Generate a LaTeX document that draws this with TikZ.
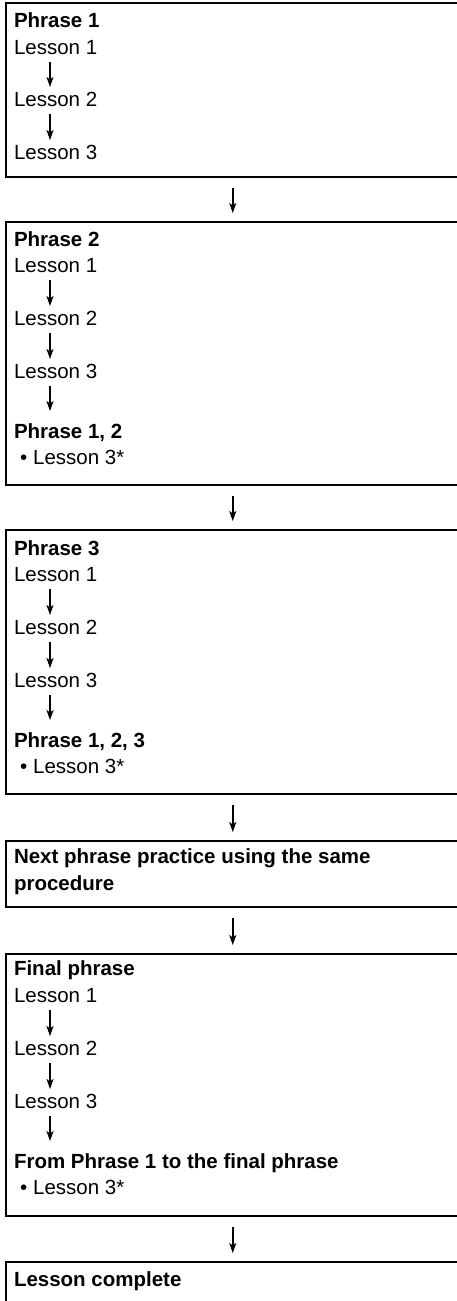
\documentclass[tikz,border=0pt]{standalone}
\usepackage{fontspec}
\setmainfont{Liberation Sans}
\usetikzlibrary{arrows.meta}
\tikzset{
  txt/.style={anchor=base west, inner sep=0pt, outer sep=0pt, font=\fontsize{20.5}{24}\selectfont},
  hd/.style={txt, font=\fontsize{20.5}{24}\selectfont\bfseries},
  frame/.style={draw, line width=2.8pt, anchor=north west, inner sep=0pt, outer sep=0pt, minimum width=453.5pt},
  sarr/.style={-{Stealth[length=10pt,width=7pt,inset=2.5pt]}, line width=1.5pt},
  marr/.style={-{Stealth[length=10pt,width=7pt,inset=2.5pt]}, line width=1.5pt},
}
\newcommand{\larr}[2]{\draw[sarr] ([xshift=36pt,yshift=-7.5pt]#1.base west) -- ([xshift=36pt,yshift=19.5pt]#2.base west);}
\begin{document}
\begin{tikzpicture}[x=1pt,y=-1pt]
\useasboundingbox (0,0) rectangle (457,1301);
\clip (0,0) rectangle (457,1301);
% boxes
\node[frame, minimum height=174pt] (b1) at (6,3) {};
\node[frame, minimum height=263pt] (b2) at (6,222) {};
\node[frame, minimum height=264pt] (b3) at (6,530) {};
\node[frame, minimum height=66pt]  (b4) at (6,841) {};
\node[frame, minimum height=262pt] (b5) at (6,954) {};
\node[frame, minimum height=70pt]  (b6) at (6,1262) {};
% box 1
\node[hd]  (b1h)  at (14,27.5)  {Phrase 1};
\node[txt] (b1l1) at (14,54.5)  {Lesson 1};
\node[txt] (b1l2) at (14,106.5) {Lesson 2};
\node[txt] (b1l3) at (14,159.5) {Lesson 3};
\larr{b1l1}{b1l2}
\larr{b1l2}{b1l3}
% box 2
\node[hd]  (b2h)  at (14,246.5) {Phrase 2};
\node[txt] (b2l1) at (14,272.5) {Lesson 1};
\node[txt] (b2l2) at (14,325.5) {Lesson 2};
\node[txt] (b2l3) at (14,378.5) {Lesson 3};
\node[hd]  (b2r)  at (14,438.5) {Phrase 1, 2};
\node[txt] (b2b)  at (20,464.5) {\textbullet\hspace{6pt}Lesson 3*};
\larr{b2l1}{b2l2}
\larr{b2l2}{b2l3}
\coordinate (e2) at (50,411);
\draw[sarr] ([xshift=36pt,yshift=-7.5pt]b2l3.base west) -- (e2);
% box 3
\node[hd]  (b3h)  at (14,555.5) {Phrase 3};
\node[txt] (b3l1) at (14,581.5) {Lesson 1};
\node[txt] (b3l2) at (14,634.5) {Lesson 2};
\node[txt] (b3l3) at (14,687.5) {Lesson 3};
\node[hd]  (b3r)  at (14,747.5) {Phrase 1, 2, 3};
\node[txt] (b3b)  at (20,773.5) {\textbullet\hspace{6pt}Lesson 3*};
\larr{b3l1}{b3l2}
\larr{b3l2}{b3l3}
\coordinate (e3) at (50,720);
\draw[sarr] ([xshift=36pt,yshift=-7.5pt]b3l3.base west) -- (e3);
% box 4
\node[hd] (b4a) at (14,863.5) {Next phrase practice using the same};
\node[hd] (b4b) at (14,890.5) {procedure};
% box 5
\node[hd]  (b5h)  at (14,975.5)  {Final phrase};
\node[txt] (b5l1) at (14,1002.5) {Lesson 1};
\node[txt] (b5l2) at (14,1055.5) {Lesson 2};
\node[txt] (b5l3) at (14,1108.5) {Lesson 3};
\node[hd]  (b5r)  at (14,1168.5) {From Phrase 1 to the final phrase};
\node[txt] (b5b)  at (20,1194.5) {\textbullet\hspace{6pt}Lesson 3*};
\larr{b5l1}{b5l2}
\larr{b5l2}{b5l3}
\coordinate (e5) at (50,1141);
\draw[sarr] ([xshift=36pt,yshift=-7.5pt]b5l3.base west) -- (e5);
% box 6
\node[hd] (b6h) at (14,1286) {Lesson complete};
% main arrows
\foreach \a/\b in {b1/b2,b2/b3,b3/b4,b4/b5,b5/b6}
  \draw[marr] ([yshift=-11pt]\a.south) -- ([yshift=9pt]\b.north);
\end{tikzpicture}
\end{document}
